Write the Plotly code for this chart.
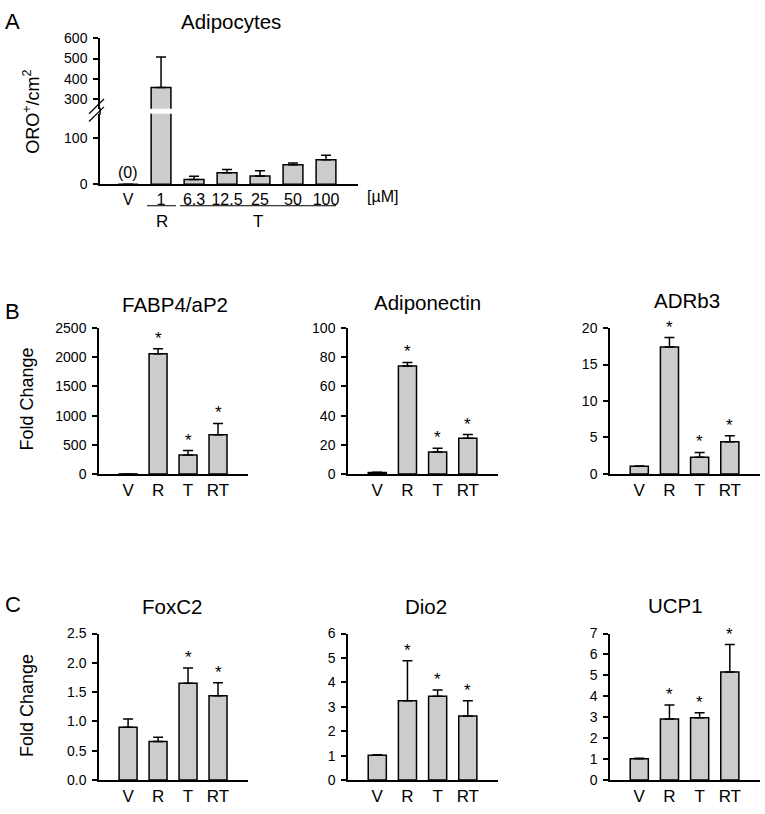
import plotly.graph_objects as go

W, H = 765, 806

# ---------------- data ----------------
a_cats = ["V", "1", "6.3", "12.5", "25", "50", "100"]
a_vals = [0, 357, 10, 25, 18, 42, 53]
a_errs = [0, 150, 7, 7, 11, 4, 10]

cats = ["V", "R", "T", "RT"]
fabp4_vals = [1, 2060, 325, 670]
fabp4_errs = [0, 85, 75, 195]
adipo_vals = [1, 74, 15, 24.5]
adipo_errs = [0.2, 2.5, 2.7, 2.5]
adrb3_vals = [1.05, 17.4, 2.3, 4.4]
adrb3_errs = [0.05, 1.3, 0.65, 0.85]
foxc2_vals = [0.90, 0.66, 1.65, 1.44]
foxc2_errs = [0.14, 0.07, 0.26, 0.22]
dio2_vals = [1.02, 3.25, 3.43, 2.62]
dio2_errs = [0.02, 1.64, 0.26, 0.63]
ucp1_vals = [1.02, 2.92, 2.98, 5.16]
ucp1_errs = [0.02, 0.67, 0.23, 1.31]
sig_b = [False, True, True, True]
sig_foxc2 = [False, False, True, True]
sig_c = [False, True, True, True]

# ---------------- helpers ----------------
def px(x):
    return x / W

def py(y):
    return 1 - y / H

FONT = "Liberation Sans, Arial, sans-serif"
BAR = "#cccccc"

fig = go.Figure()

def bars(xa, ya, x, y, err, show_err=True):
    fig.add_trace(go.Bar(
        x=x, y=y, xaxis=xa, yaxis=ya, width=0.6,
        marker=dict(color=BAR, line=dict(color="black", width=1.5)),
        error_y=dict(type="data", symmetric=False, array=err,
                     arrayminus=[0] * len(err), color="black",
                     thickness=1.5, width=5, visible=show_err),
        showlegend=False, hoverinfo="skip"))

# Panel A: lower (y) and upper (y2) segments of the broken axis
bars("x", "y", a_cats, a_vals, [0, 0] + a_errs[2:])
bars("x", "y2", [a_cats[1]], [a_vals[1]], [a_errs[1]])

# Panels B and C
panels = [
    ("x2", "y3", fabp4_vals, fabp4_errs, sig_b),
    ("x3", "y4", adipo_vals, adipo_errs, sig_b),
    ("x4", "y5", adrb3_vals, adrb3_errs, sig_b),
    ("x5", "y6", foxc2_vals, foxc2_errs, sig_foxc2),
    ("x6", "y7", dio2_vals, dio2_errs, sig_c),
    ("x7", "y8", ucp1_vals, ucp1_errs, sig_c),
]
for xa, ya, v, e, s in panels:
    bars(xa, ya, cats, v, e)

annotations = []
for xa, ya, v, e, s in panels:
    for c, vv, ee, ss in zip(cats, v, e, s):
        if ss:
            annotations.append(dict(x=c, y=vv + ee, xref=xa, yref=ya,
                                    text="*", showarrow=False,
                                    yanchor="bottom", yshift=-1,
                                    font=dict(size=17, color="black")))

axis_common = dict(showline=True, linecolor="black", linewidth=1.5,
                   showgrid=False, zeroline=False, fixedrange=True,
                   tickfont=dict(size=14, family=FONT, color="black"))
yax_common = dict(axis_common, ticks="outside", ticklen=5, tickwidth=1.5,
                  tickcolor="black", ticklabelstandoff=3)
xax_common = dict(axis_common, ticks="", type="category",
                  tickfont=dict(size=17, family=FONT, color="black"))

layout = dict(
    width=W, height=H, margin=dict(l=0, r=0, t=0, b=0),
    paper_bgcolor="white", plot_bgcolor="white",
    font=dict(family=FONT, color="black"),
    bargap=0.4,
)

# Panel A axes
layout["xaxis"] = dict(xax_common, domain=[px(100), px(358)],
                       range=[-0.85, 6.97], anchor="y",
                       tickfont=dict(size=16, family=FONT, color="black"))
layout["yaxis"] = dict(yax_common, domain=[py(180), py(108)],
                       range=[0, 153], tickvals=[0, 100], anchor="x")
layout["yaxis2"] = dict(yax_common, domain=[py(103), py(31)],
                        range=[250.8, 600], tickvals=[300, 400, 500, 600],
                        anchor="x")

# Panels B, C axes
xdoms = [(99, 248), (348, 498), (610, 760)]
ydoms = [(476, 327), (788.7, 639)]
yranges = [[0, 2500], [0, 100], [0, 20], [0, 2.5], [0, 6], [0, 7]]
ydticks = [500, 20, 5, 0.5, 1, 1]
tickfmt = ["", "", "", ".1f", "", ""]
for i in range(6):
    r, c = divmod(i, 3)
    xn = i + 2
    yn = i + 3
    x0, x1 = xdoms[c]
    yb, yt = ydoms[r]
    layout[f"xaxis{xn}"] = dict(xax_common, domain=[px(x0), px(x1)],
                                range=[-0.97, 4.0], anchor=f"y{yn}")
    layout[f"yaxis{yn}"] = dict(yax_common, domain=[py(yb), py(yt)],
                                range=yranges[i], dtick=ydticks[i],
                                tick0=0, tickformat=tickfmt[i],
                                anchor=f"x{xn}")

def text(x, y, t, size, **kw):
    d = dict(x=px(x), y=py(y), xref="paper", yref="paper", text=t,
             showarrow=False, font=dict(size=size, family=FONT, color="black"),
             xanchor="center", yanchor="middle")
    d.update(kw)
    annotations.append(d)

# titles
text(231, 14, "Adipocytes", 20.5)
text(175, 303, "FABP4/aP2", 20.5)
text(427, 301, "Adiponectin", 20.5)
text(687, 299, "ADRb3", 20.5)
text(172, 611, "FoxC2", 20.5)
text(426, 611, "Dio2", 20.5)
text(675, 610, "UCP1", 20.5)
# panel letters
text(13, 14, "A", 22)
text(13, 310, "B", 22)
text(13, 609, "C", 22)
# y axis titles
text(32, 106, "ORO<sup>+</sup>/cm<sup>2</sup>", 18, textangle=-90)
text(27, 400, "Fold Change", 18, textangle=-90)
text(27, 713, "Fold Change", 18, textangle=-90)
# panel A extras
text(128, 168, "(0)", 16)
text(382, 193, "[µM]", 16)
text(162, 218, "R", 17)
text(258, 218, "T", 17)

layout["annotations"] = annotations
layout["shapes"] = [
    dict(type="line", xref="paper", yref="paper", x0=px(147), x1=px(176),
         y0=py(202), y1=py(202), line=dict(color="black", width=1)),
    dict(type="line", xref="paper", yref="paper", x0=px(180), x1=px(336),
         y0=py(202), y1=py(202), line=dict(color="black", width=1)),
    # axis continuation through the break
    dict(type="line", xref="paper", yref="paper", x0=px(100), x1=px(100),
         y0=py(102), y1=py(109), line=dict(color="black", width=1.5)),
    # break slashes
    dict(type="line", xref="paper", yref="paper", x0=px(89), x1=px(104),
         y0=py(108), y1=py(93), line=dict(color="black", width=1.2)),
    dict(type="line", xref="paper", yref="paper", x0=px(89), x1=px(104),
         y0=py(116), y1=py(101), line=dict(color="black", width=1.2)),
]

fig.update_layout(**layout)
fig.write_html(
    "out.html",
    config={"displayModeBar": False},
    post_script=("document.body.style.margin='0';"
                 "document.body.style.overflow='hidden';"),
)
